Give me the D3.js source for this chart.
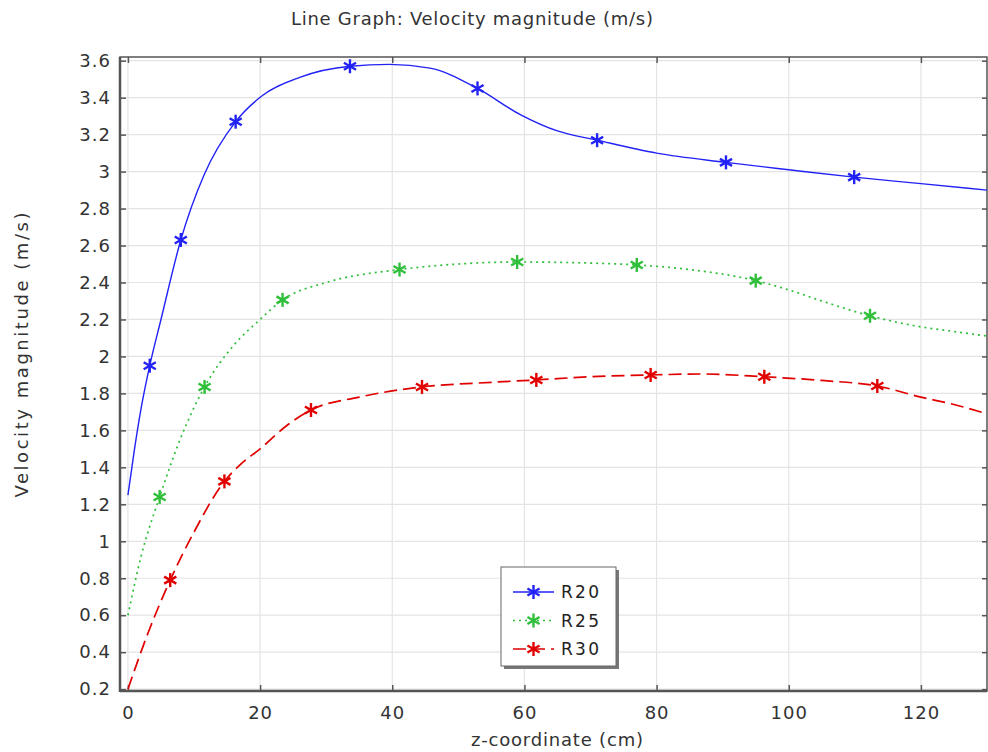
<!DOCTYPE html>
<html>
<head>
<meta charset="utf-8">
<script src="https://cdn.jsdelivr.net/npm/d3@7/dist/d3.min.js"></script>
<style>
  body { margin: 0; background: #fff; }
  svg { display: block; font-family: "DejaVu Sans", sans-serif; }
</style>
</head>
<body>
<svg id="chart" width="988" height="752"></svg>
<script>
// data
const xTicks = [0, 20, 40, 60, 80, 100, 120];
const yTicks = [0.2, 0.4, 0.6, 0.8, 1, 1.2, 1.4, 1.6, 1.8, 2, 2.2, 2.4, 2.6, 2.8, 3, 3.2, 3.4, 3.6];

const zR20 = [0, 1, 2, 3.3, 5, 8, 11.5, 16.3, 20.3, 26, 33.6, 39.6, 45.7, 52.9, 59.3, 65, 71, 80, 90.5, 100, 109.9, 120, 130];
const vR20 = [1.25, 1.5, 1.72, 1.95, 2.2, 2.63, 2.98, 3.27, 3.41, 3.51, 3.57, 3.58, 3.56, 3.45, 3.31, 3.22, 3.17, 3.10, 3.05, 3.01, 2.97, 2.935, 2.9];
const mR20 = [3.3, 8, 16.3, 33.6, 52.9, 71, 90.5, 109.9];

const zR25 = [0, 2, 4.8, 8, 11.6, 16, 20, 23.4, 30, 41.1, 50, 58.9, 70, 77, 85, 95, 100, 105, 112.3, 120, 125, 130];
const vR25 = [0.60, 0.92, 1.24, 1.56, 1.835, 2.06, 2.2, 2.306, 2.40, 2.47, 2.50, 2.511, 2.505, 2.495, 2.47, 2.41, 2.36, 2.30, 2.22, 2.16, 2.135, 2.11];
const mR25 = [4.8, 11.6, 23.4, 41.1, 58.9, 77, 95, 112.3];

const zR30 = [0, 3, 6.4, 10, 14.6, 17, 20, 24, 27.7, 35, 44.5, 55, 61.8, 70, 79.1, 87, 96.3, 105, 113.4, 120, 125, 130];
const vR30 = [0.2, 0.5, 0.79, 1.05, 1.324, 1.415, 1.50, 1.625, 1.71, 1.78, 1.835, 1.86, 1.873, 1.89, 1.90, 1.905, 1.89, 1.87, 1.84, 1.78, 1.74, 1.69];
const mR30 = [6.4, 14.6, 27.7, 44.5, 61.8, 79.1, 96.3, 113.4];

const seriesNames = ["R20", "R25", "R30"];
const colors = ["#2222f5", "#2fbf3a", "#e00000"];
const dashes = [null, "2,4", "13,6"];

const series = [
  { name: seriesNames[0], z: zR20, v: vR20, m: mR20 },
  { name: seriesNames[1], z: zR25, v: vR25, m: mR25 },
  { name: seriesNames[2], z: zR30, v: vR30, m: mR30 }
];

const svg = d3.select("#chart");
const pl = 120, pr = 987, pt = 57, pb = 691;

const x = d3.scaleLinear().domain([-1.2, 130]).range([pl, pr]);
const y = d3.scaleLinear().domain([0.19, 3.62]).range([pb, pt]);

// grid
svg.append("g").selectAll("line").data(xTicks).join("line")
  .attr("x1", d => x(d)).attr("x2", d => x(d))
  .attr("y1", pt).attr("y2", pb)
  .attr("stroke", "#e4e4e4").attr("stroke-width", 1.2);
svg.append("g").selectAll("line").data(yTicks).join("line")
  .attr("x1", pl).attr("x2", pr)
  .attr("y1", d => y(d)).attr("y2", d => y(d))
  .attr("stroke", "#e4e4e4").attr("stroke-width", 1.2);

// axes (ticks inward)
const fmt = d => String(d);
svg.append("g").attr("transform", `translate(0,${pb})`)
  .call(d3.axisBottom(x).tickValues(xTicks).tickSize(-6).tickPadding(15).tickFormat(fmt))
  .call(g => g.select(".domain").remove());
svg.append("g").attr("transform", `translate(${pl},0)`)
  .call(d3.axisLeft(y).tickValues(yTicks).tickSize(-6).tickPadding(9).tickFormat(fmt))
  .call(g => g.select(".domain").remove());
svg.append("g").attr("transform", `translate(0,${pt})`)
  .call(d3.axisTop(x).tickValues(xTicks).tickSize(-6).tickFormat(""))
  .call(g => g.select(".domain").remove());
svg.append("g").attr("transform", `translate(${pr},0)`)
  .call(d3.axisRight(y).tickValues(yTicks).tickSize(-5).tickFormat(""))
  .call(g => g.select(".domain").remove());

svg.selectAll(".tick line").attr("stroke", "#555").attr("stroke-width", 1.5);
svg.selectAll(".tick text").attr("fill", "#333")
  .style("font-size", "18px").style("letter-spacing", "1px")
  .style("font-family", "DejaVu Sans, sans-serif");

// frame
svg.append("rect")
  .attr("x", pl).attr("y", pt).attr("width", pr - pl).attr("height", pb - pt)
  .attr("fill", "none").attr("stroke", "#555").attr("stroke-width", 1.5);
svg.append("line").attr("x1", pl).attr("x2", pl).attr("y1", pt).attr("y2", pb + 1)
  .attr("stroke", "#555").attr("stroke-width", 2.5);
svg.append("line").attr("x1", pl).attr("x2", pr).attr("y1", pb).attr("y2", pb)
  .attr("stroke", "#555").attr("stroke-width", 2.5);

// curves
const line = d3.line().x(d => x(d[0])).y(d => y(d[1])).curve(d3.curveMonotoneX);

function asterisk(g, cx, cy, r, color) {
  [90, 30, 150].forEach(a => {
    const rad = a * Math.PI / 180;
    g.append("line")
      .attr("x1", cx - r * Math.cos(rad)).attr("y1", cy - r * Math.sin(rad))
      .attr("x2", cx + r * Math.cos(rad)).attr("y2", cy + r * Math.sin(rad))
      .attr("stroke", color).attr("stroke-width", 2.4);
  });
}

series.forEach((s, i) => {
  const pts = s.z.map((z, k) => [z, s.v[k]]);
  svg.append("path")
    .attr("d", line(pts))
    .attr("fill", "none")
    .attr("stroke", colors[i])
    .attr("stroke-width", i === 0 ? 1.4 : 1.7)
    .attr("stroke-dasharray", dashes[i]);
  const g = svg.append("g");
  s.m.forEach(z => {
    const k = s.z.indexOf(z);
    asterisk(g, x(z), y(s.v[k]), 7, colors[i]);
  });
});

// legend
const lg = svg.append("g").attr("transform", "translate(501,567)");
lg.append("rect").attr("x", 3).attr("y", 3).attr("width", 115).attr("height", 99).attr("fill", "#777");
lg.append("rect").attr("width", 115).attr("height", 99).attr("fill", "#fff").attr("stroke", "#666").attr("stroke-width", 1);
seriesNames.forEach((n, i) => {
  const yy = 25 + i * 28.5;
  lg.append("line").attr("x1", 12).attr("x2", 53).attr("y1", yy).attr("y2", yy)
    .attr("stroke", colors[i]).attr("stroke-width", 1.7).attr("stroke-dasharray", dashes[i]);
  asterisk(lg, 32.5, yy, 7, colors[i]);
  lg.append("text").attr("x", 60).attr("y", yy + 6).text(n)
    .attr("fill", "#222").style("font-size", "17px")
    .attr("textLength", 38).attr("lengthAdjust", "spacing");
});

// titles
svg.append("text").attr("x", 472).attr("y", 25).attr("text-anchor", "middle")
  .attr("fill", "#333").style("font-size", "18px")
  .attr("textLength", 362).attr("lengthAdjust", "spacing")
  .text("Line Graph: Velocity magnitude (m/s)");
svg.append("text").attr("x", 557).attr("y", 746).attr("text-anchor", "middle")
  .attr("fill", "#333").style("font-size", "18px")
  .attr("textLength", 172).attr("lengthAdjust", "spacing")
  .text("z-coordinate (cm)");
svg.append("text").attr("transform", "translate(28,355) rotate(-90)").attr("text-anchor", "middle")
  .attr("fill", "#333").style("font-size", "18px")
  .attr("textLength", 285).attr("lengthAdjust", "spacing")
  .text("Velocity magnitude (m/s)");
</script>
</body>
</html>
